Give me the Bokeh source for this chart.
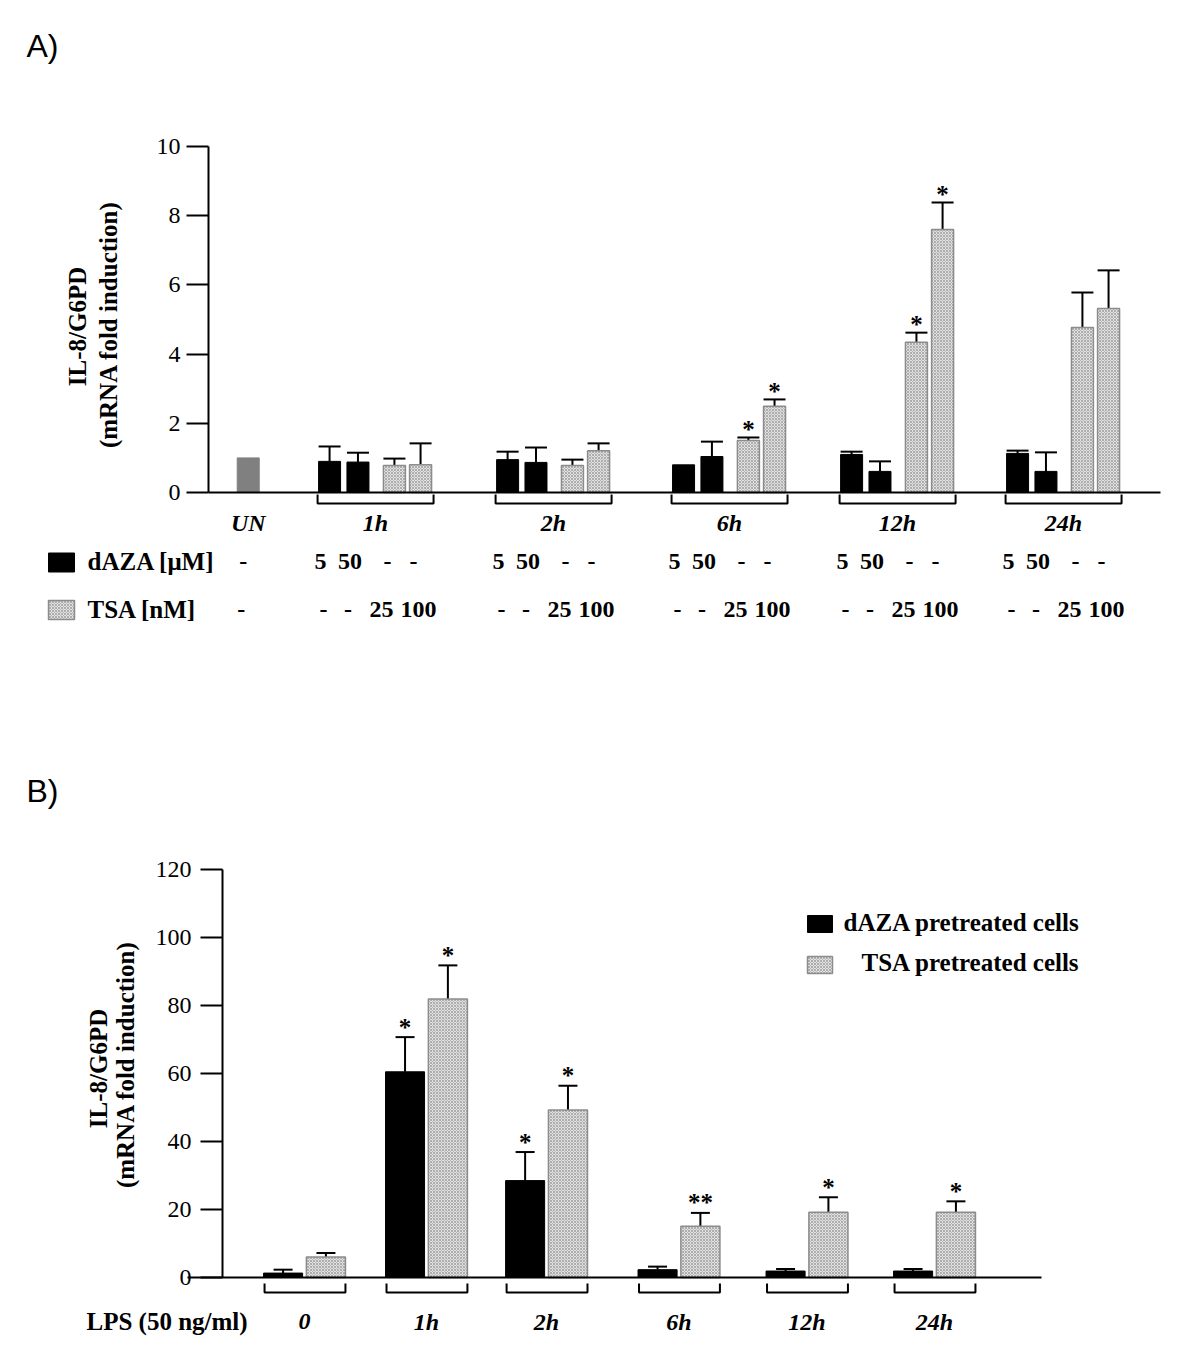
import numpy as np
from bokeh.plotting import figure
from bokeh.models import Range1d, LinearAxis, FixedTicker, ColumnDataSource, Whisker, TeeHead
from bokeh.layouts import column
from bokeh.core.properties import value
from bokeh.embed import file_html
from bokeh.resources import INLINE

# ---------------- data: panel A ----------------
a_groups = ["UN", "1h", "2h", "6h", "12h", "24h"]
a_un_value = 1.0
a_daza5 = [0.90, 0.95, 0.80, 1.10, 1.13]
a_daza5_err = [0.43, 0.23, 0.0, 0.08, 0.08]
a_daza50 = [0.88, 0.87, 1.04, 0.61, 0.61]
a_daza50_err = [0.27, 0.43, 0.43, 0.29, 0.55]
a_tsa25 = [0.78, 0.78, 1.50, 4.34, 4.77]
a_tsa25_err = [0.20, 0.17, 0.09, 0.28, 1.01]
a_tsa100 = [0.80, 1.21, 2.49, 7.60, 5.32]
a_tsa100_err = [0.62, 0.21, 0.20, 0.78, 1.10]
a_tsa25_sig = ["", "", "*", "*", ""]
a_tsa100_sig = ["", "", "*", "*", ""]
a_daza_row = ["5", "50", "-", "-"]
a_tsa_row = ["-", "-", "25", "100"]
a_un_row = ["-", "-"]
a_yticks = [0, 2, 4, 6, 8, 10]

# ---------------- data: panel B ----------------
b_groups = ["0", "1h", "2h", "6h", "12h", "24h"]
b_daza = [1.3, 60.5, 28.5, 2.3, 1.9, 1.9]
b_daza_err = [1.0, 10.2, 8.4, 0.9, 0.6, 0.6]
b_tsa = [6.0, 81.9, 49.3, 15.1, 19.2, 19.2]
b_tsa_err = [1.2, 9.9, 7.1, 3.9, 4.4, 3.2]
b_daza_sig = ["", "*", "*", "", "", ""]
b_tsa_sig = ["", "*", "*", "**", "*", "*"]
b_yticks = [0, 20, 40, 60, 80, 100, 120]

# ---------------- styling / layout ----------------
W = 1184
SERIF_NAME = "Liberation Serif"
SERIF = value(SERIF_NAME)
SANS = value("Liberation Sans")
HATCH = dict(fill_color="#e2e2e2", hatch_pattern="diagonal_cross", hatch_color="#8a8a8a",
             hatch_scale=3, hatch_weight=0.6, line_color="#8c8c8c", line_width=1.5)
BLACK = dict(fill_color="black", line_color="black", line_width=1)


def make_fig(h, xr, yr):
    return figure(width=W, height=h, x_range=Range1d(*xr), y_range=Range1d(*yr),
                  x_axis_type=None, y_axis_type=None, toolbar_location=None,
                  output_backend="svg", min_border=0, outline_line_color=None,
                  background_fill_color="white", border_fill_color="white")


def add_axes(p, y_loc, y_bounds, ticks, x_bounds, standoff):
    yax = LinearAxis(fixed_location=y_loc, bounds=y_bounds, ticker=FixedTicker(ticks=ticks),
                     major_tick_out=22, major_tick_in=0, minor_tick_out=0, minor_tick_in=0,
                     major_tick_line_width=2, major_tick_line_color="black",
                     axis_line_width=2, axis_line_color="black",
                     major_label_standoff=standoff, major_label_text_font=SERIF_NAME,
                     major_label_text_font_size="24px", major_label_text_color="black")
    p.add_layout(yax, "left")
    xax = LinearAxis(fixed_location=0, bounds=x_bounds, ticker=FixedTicker(ticks=[]),
                     major_tick_line_color=None, minor_tick_line_color=None,
                     major_label_text_font_size="0px",
                     axis_line_width=2, axis_line_color="black")
    p.add_layout(xax, "below")


def add_err(p, xs, tops, errs, sigs, head, ppu, star_gap):
    xs, tops, errs = np.asarray(xs, float), np.asarray(tops, float), np.asarray(errs, float)
    m = errs > 0
    src = ColumnDataSource(dict(base=xs[m], lower=tops[m], upper=tops[m] + errs[m]))
    p.add_layout(Whisker(source=src, base="base", lower="lower", upper="upper",
                         dimension="height", line_width=2, line_color="black",
                         upper_head=TeeHead(size=head, line_width=2, line_color="black"),
                         lower_head=None))
    sigs = np.asarray(sigs)
    s = sigs != ""
    if s.any():
        p.text(x=list(xs[s]), y=list((tops + errs)[s] + star_gap / ppu), text=list(sigs[s]),
               text_align="center", text_baseline="middle", text_font=SERIF,
               text_font_style="bold", text_font_size="25px", text_color="black")


def txt(p, x, y, t, size="25px", style="bold", align="left", font=SERIF, angle=0):
    p.text(x=list(np.atleast_1d(x)), y=list(np.atleast_1d(y)), text=list(np.atleast_1d(t)),
           text_align=align, text_baseline="middle", text_font=font,
           text_font_style=style, text_font_size=size, text_color="black", angle=angle)


# ======================= PANEL A =======================
A_TOP, A_H = 0, 680
def ax(px): return 1 + (px - 375) / 172.0
def ay(py): return (492 - py) / 34.6
A_PPU = 34.6

pA = make_fig(A_H, (ax(0), ax(W)), (ay(A_TOP + A_H), ay(A_TOP)))
add_axes(pA, ax(208), (0, 10), a_yticks, (ax(208), ax(1160)), 6)

A_GROUP_X = np.array([0.26, 1.0, 2.035, 3.058, 4.035, 5.0])
A_OFF = np.array([-0.267, -0.102, 0.110, 0.262])
A_BW = 22 / 172.0
gx = A_GROUP_X[1:]
xs4 = [gx + o for o in A_OFF]

pA.vbar(x=[A_GROUP_X[0]], top=[a_un_value], bottom=0, width=A_BW,
        fill_color="#808080", line_color="#808080")
pA.vbar(x=xs4[0], top=a_daza5, bottom=0, width=A_BW, **BLACK)
pA.vbar(x=xs4[1], top=a_daza50, bottom=0, width=A_BW, **BLACK)
pA.vbar(x=xs4[2], top=a_tsa25, bottom=0, width=A_BW, **HATCH)
pA.vbar(x=xs4[3], top=a_tsa100, bottom=0, width=A_BW, **HATCH)

nos = [""] * len(gx)
add_err(pA, xs4[0], a_daza5, a_daza5_err, nos, 22, A_PPU, 8)
add_err(pA, xs4[1], a_daza50, a_daza50_err, nos, 22, A_PPU, 8)
add_err(pA, xs4[2], a_tsa25, a_tsa25_err, a_tsa25_sig, 22, A_PPU, 8)
add_err(pA, xs4[3], a_tsa100, a_tsa100_err, a_tsa100_sig, 22, A_PPU, 8)

# brackets under time groups
bl = xs4[0] - A_BW / 2 - 1 / 172.0
br = xs4[3] + A_BW / 2 + 2 / 172.0
pA.multi_line(xs=[[l, l, r, r] for l, r in zip(bl, br)],
              ys=[[ay(494), ay(503), ay(503), ay(494)] for _ in bl],
              line_color="black", line_width=2)

# group labels
txt(pA, A_GROUP_X, [ay(522)] * 6, a_groups, size="24px", style="bold italic", align="center")

# treatment rows (token offsets from bar centres, in px)
daza_shift = np.array([-9, -8, -7, -7]) / 172.0
tsa_shift = np.array([-6, -10, -13, -2]) / 172.0
bar_c = [np.array([x[i] for x in xs4]) for i in range(len(gx))]
daza_x = np.concatenate([[A_GROUP_X[0] - 5 / 172.0]] + [c + daza_shift for c in bar_c])
tsa_x = np.concatenate([[A_GROUP_X[0] - 7 / 172.0]] + [c + tsa_shift for c in bar_c])
daza_tokens = [a_un_row[0]] + a_daza_row * len(gx)
tsa_tokens = [a_un_row[1]] + a_tsa_row * len(gx)
txt(pA, daza_x, [ay(561)] * len(daza_x), daza_tokens, size="24px", align="center")
txt(pA, tsa_x, [ay(609)] * len(tsa_x), tsa_tokens, size="24px", align="center")

pA.rect(x=[ax(61)], y=[ay(562)], width=26, height=19, width_units="screen",
        height_units="screen", **BLACK)
pA.rect(x=[ax(61)], y=[ay(609.5)], width=26, height=19, width_units="screen",
        height_units="screen", **HATCH)
txt(pA, ax(87), ay(561), "dAZA [\u03bcM]")
txt(pA, ax(87), ay(609), "TSA [nM]")

# y-axis title
txt(pA, ax(77), ay(326), "IL-8/G6PD", align="center", angle=np.pi / 2)
txt(pA, ax(108), ay(324), "(mRNA fold induction)", align="center", angle=np.pi / 2)

# panel letter
txt(pA, ax(26), ay(45), "A)", size="32px", style="normal", font=SANS)

# ======================= PANEL B =======================
B_TOP, B_H = 680, 680
def bx(px): return (px - 304) / 126.0
def by(py): return (1277 - py) / 3.4
B_PPU = 3.4

pB = make_fig(B_H, (bx(0), bx(W)), (by(B_TOP + B_H), by(B_TOP)))
add_axes(pB, bx(222), (0, 120), b_yticks, (bx(187), bx(1041)), 9)

B_GROUP_X = np.array([0.0, 0.968, 1.921, 2.972, 3.988, 5.0])
B_OFF = 0.17
B_BW = 0.31
xd = B_GROUP_X - B_OFF
xt = B_GROUP_X + B_OFF

pB.vbar(x=xd, top=b_daza, bottom=0, width=B_BW, **BLACK)
pB.vbar(x=xt, top=b_tsa, bottom=0, width=B_BW, **HATCH)
add_err(pB, xd, b_daza, b_daza_err, b_daza_sig, 19, B_PPU, 10)
add_err(pB, xt, b_tsa, b_tsa_err, b_tsa_sig, 19, B_PPU, 10)

bl = xd - B_BW / 2 + 1 / 126.0
br = xt + B_BW / 2
pB.multi_line(xs=[[l, l, r, r] for l, r in zip(bl, br)],
              ys=[[by(1283), by(1292), by(1292), by(1283)] for _ in bl],
              line_color="black", line_width=2)

txt(pB, B_GROUP_X, [by(1321)] * 6, b_groups, size="24px", style="bold italic", align="center")
txt(pB, bx(86), by(1321), "LPS (50 ng/ml)")

# legend
pB.rect(x=[bx(819.5)], y=[by(923.5)], width=25, height=17, width_units="screen",
        height_units="screen", **BLACK)
pB.rect(x=[bx(819.5)], y=[by(964.5)], width=25, height=17, width_units="screen",
        height_units="screen", **HATCH)
txt(pB, bx(843), by(922), "dAZA pretreated cells")
txt(pB, bx(861), by(962), "TSA pretreated cells")

# y-axis title
txt(pB, bx(98), by(1068), "IL-8/G6PD", align="center", angle=np.pi / 2)
txt(pB, bx(125), by(1064), "(mRNA fold induction)", align="center", angle=np.pi / 2)

txt(pB, bx(26), by(790), "B)", size="32px", style="normal", font=SANS)

layout = column(pA, pB)
open("out.html", "w").write(file_html(layout, INLINE))
